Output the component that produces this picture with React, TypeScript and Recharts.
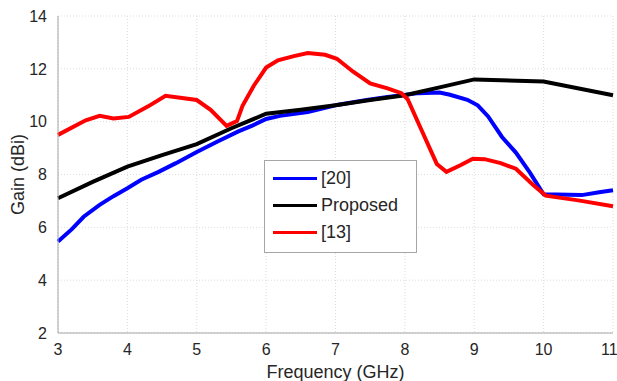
import {
  LineChart,
  Line,
  XAxis,
  YAxis,
  CartesianGrid,
  Legend,
} from "recharts";

// [20] reference antenna
const refAFreq = [3.0, 3.2, 3.37, 3.6, 3.8, 4.0, 4.2, 4.45, 4.7, 5.0, 5.3, 5.6, 5.8, 6.0, 6.2, 6.6, 7.0, 7.45, 7.75, 8.2, 8.5, 8.65, 8.9, 9.05, 9.2, 9.4, 9.6, 9.8, 10.0, 10.55, 10.8, 11.0];
const refAGain = [5.46, 5.93, 6.4, 6.85, 7.18, 7.48, 7.8, 8.1, 8.43, 8.85, 9.25, 9.63, 9.85, 10.1, 10.22, 10.36, 10.62, 10.82, 10.93, 11.08, 11.1, 11.02, 10.83, 10.62, 10.2, 9.42, 8.83, 8.08, 7.25, 7.22, 7.33, 7.4];

// Proposed antenna
const propFreq = [3, 3.5, 4, 4.5, 5, 5.5, 6, 6.5, 7, 7.5, 8, 8.5, 9, 10, 11];
const propGain = [7.1, 7.72, 8.3, 8.73, 9.15, 9.75, 10.3, 10.45, 10.62, 10.82, 11.0, 11.3, 11.6, 11.52, 11.0];

// [13] reference antenna
const refBFreq = [3.0, 3.4, 3.6, 3.8, 4.02, 4.3, 4.55, 5.0, 5.2, 5.43, 5.58, 5.66, 5.82, 6.0, 6.17, 6.4, 6.6, 6.85, 7.02, 7.25, 7.5, 7.75, 7.95, 8.04, 8.22, 8.46, 8.6, 8.8, 8.98, 9.15, 9.38, 9.6, 9.85, 10.03, 10.5, 11.0];
const refBGain = [9.5, 10.05, 10.22, 10.12, 10.18, 10.58, 10.98, 10.82, 10.45, 9.84, 10.02, 10.6, 11.35, 12.05, 12.32, 12.48, 12.6, 12.53, 12.38, 11.9, 11.45, 11.26, 11.08, 10.85, 9.8, 8.4, 8.1, 8.35, 8.6, 8.58, 8.43, 8.22, 7.6, 7.2, 7.02, 6.8];

const xTicks = [3, 4, 5, 6, 7, 8, 9, 10, 11];
const yTicks = [2, 4, 6, 8, 10, 12, 14];

const toPoints = (fs: number[], gs: number[]) =>
  fs.map((f, i) => ({ freq: f, gain: gs[i] }));

const FONT = "'Liberation Sans', Arial, sans-serif";
const TEXT = "#262626";
const FRAME = "#a6a6a6";

const series = [
  { name: "[20]", color: "#0000ff", data: toPoints(refAFreq, refAGain) },
  { name: "Proposed", color: "#000000", data: toPoints(propFreq, propGain) },
  { name: "[13]", color: "#ff0000", data: toPoints(refBFreq, refBGain) },
];

function BoxLegend() {
  return (
    <div
      style={{
        background: "#fff",
        border: `1px solid ${FRAME}`,
        padding: "4px 0 6px 8px",
        width: 153,
        boxSizing: "border-box",
        fontFamily: FONT,
        fontSize: 18,
        color: TEXT,
      }}
    >
      {series.map((s) => (
        <div key={s.name} style={{ display: "flex", alignItems: "center", height: 27 }}>
          <span style={{ display: "inline-block", width: 44, height: 3, background: s.color, marginRight: 4 }} />
          <span>{s.name}</span>
        </div>
      ))}
    </div>
  );
}

function GainLabel({ viewBox }: any) {
  const cy = viewBox.y + viewBox.height / 2;
  return (
    <text
      x={18}
      y={cy}
      transform={`rotate(-90 18 ${cy})`}
      textAnchor="middle"
      dominantBaseline="central"
      style={{ fontSize: 18, fill: TEXT, fontFamily: FONT }}
    >
      Gain (dBi)
    </text>
  );
}

export default function App() {
  const tickStyle = { fontSize: 16, fill: TEXT, fontFamily: FONT };
  return (
    <div style={{ position: "absolute", left: 0, top: 0, background: "#fff" }}>
      <LineChart
        width={617}
        height={381}
        margin={{ top: 16, right: 4, left: 0, bottom: 0 }}
      >
        <CartesianGrid stroke="#dcdcdc" strokeDasharray="1 2" />
        <XAxis
          dataKey="freq"
          type="number"
          domain={[3, 11]}
          ticks={xTicks}
          allowDuplicatedCategory={false}
          height={48}
          stroke={FRAME}
          tickLine={false}
          tickMargin={5}
          tick={tickStyle}
          label={{
            value: "Frequency (GHz)",
            position: "insideBottom",
            offset: 3,
            style: { fontSize: 18, fill: TEXT, fontFamily: FONT },
          }}
        />
        <XAxis xAxisId="top" orientation="top" type="number" domain={[3, 11]} height={0} tick={false} tickLine={false} stroke={FRAME} />
        <YAxis
          type="number"
          domain={[2, 14]}
          ticks={yTicks}
          width={58}
          stroke={FRAME}
          tickLine={false}
          tickMargin={5}
          tick={tickStyle}
          label={<GainLabel />}
        />
        <YAxis yAxisId="right" orientation="right" domain={[2, 14]} width={0} tick={false} tickLine={false} stroke={FRAME} />
        {series.map((s) => (
          <Line
            key={s.name}
            data={s.data}
            dataKey="gain"
            name={s.name}
            type="linear"
            stroke={s.color}
            strokeWidth={4}
            dot={false}
            activeDot={false}
            isAnimationActive={false}
          />
        ))}
        <Legend
          layout="vertical"
          align="center"
          verticalAlign="middle"
          content={() => <BoxLegend />}
          wrapperStyle={{ left: 264, top: 160, width: 153 }}
        />
      </LineChart>
    </div>
  );
}
